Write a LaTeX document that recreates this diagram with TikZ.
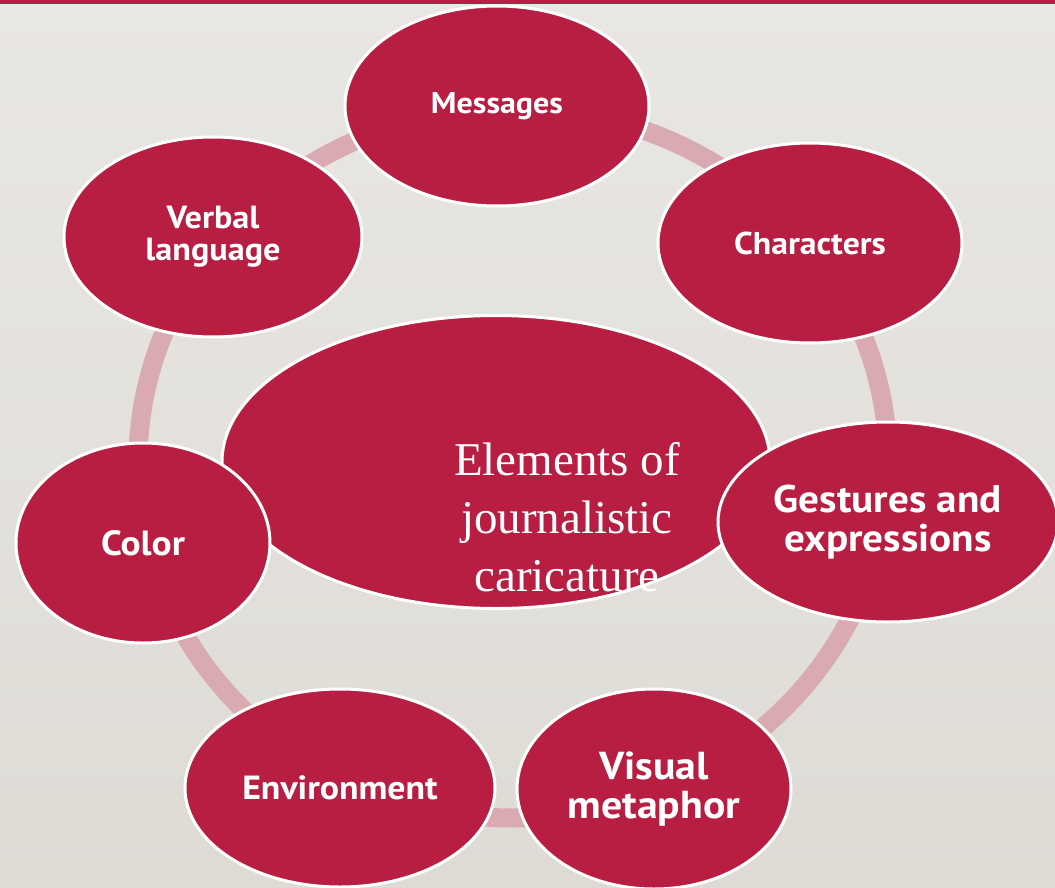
\documentclass[tikz,border=0pt]{standalone}
\usepackage{fontspec}
\setmainfont{Liberation Serif}
\newfontfamily\labfont[FakeStretch=1.07]{PT Sans}
\usetikzlibrary{shapes.geometric}
\definecolor{crim}{HTML}{B71E42}
\definecolor{ringc}{HTML}{D9AAB1}
\definecolor{bgtop}{HTML}{E9E7E3}
\definecolor{bgbot}{HTML}{DEDBD5}
\tikzset{
  bubble/.style={ellipse, draw=white, line width=3pt, fill=crim, text=white,
    inner sep=0pt, align=center, font=\labfont\bfseries},
  fs/.style={font=\labfont\bfseries\fontsize{#1}{#1}\selectfont}
}
\begin{document}
\begin{tikzpicture}[x=1pt,y=-1pt]
\useasboundingbox (0,0) rectangle (1055,888);
\shade[top color=bgtop, bottom color=bgbot] (0,0) rectangle (1055,888);
\fill[crim] (0,0) rectangle (1055,4);
% ring
\draw[ringc, line width=19pt] (513,463) ellipse [x radius=375, y radius=355];
% centre
\node[bubble, minimum width=548pt, minimum height=293pt] (core) at (496,462) {};
% satellites
\node[bubble, fs=30, minimum width=304pt, minimum height=200pt] (msg) at (497,106) {Messages};
\node[bubble, fs=31.5, minimum width=304pt, minimum height=200pt] (chr) at (810,243) {Characters};
\node[bubble, fs=32, minimum width=298pt, minimum height=200pt] (vrb) at (213,237) {Verbal\\language};
\node[bubble, fs=35, minimum width=254pt, minimum height=200pt] (col) at (143,543) {Color};
\node[bubble, fs=38.5, minimum width=340pt, minimum height=200pt] (ges) at (888,522) {Gestures and\\expressions};
\node[bubble, fs=33.5, minimum width=310pt, minimum height=198pt] (env) at (340,788) {Environment};
\node[bubble, fs=39, minimum width=274pt, minimum height=200pt] (vis) at (654,789) {Visual\\metaphor};
% centre text
\node[text=white, align=center, inner sep=0pt, font=\fontsize{47}{58}\selectfont] (coretext) at (567,517) {Elements of\\journalistic\\caricature};
\end{tikzpicture}
\end{document}
